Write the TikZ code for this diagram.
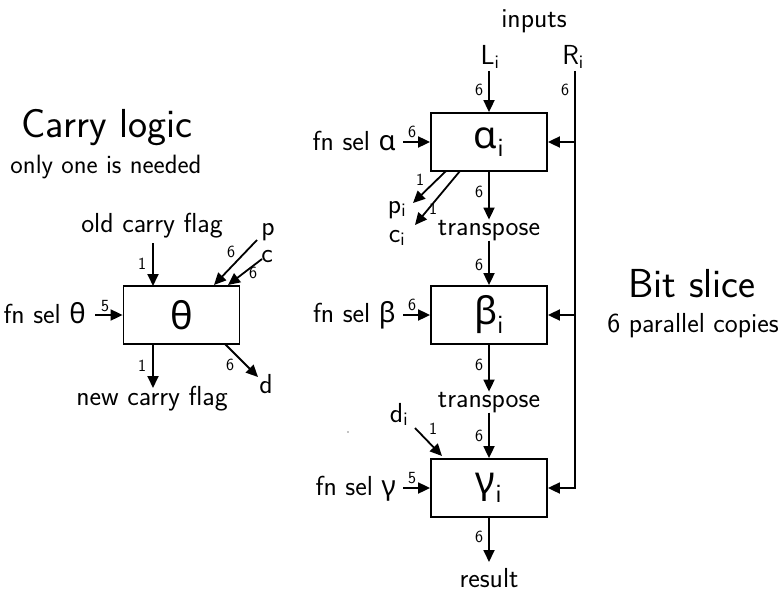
\documentclass[tikz,border=0pt]{standalone}
\usepackage{fontspec}
\usetikzlibrary{arrows.meta}
\newfontfamily\grk{Noto Sans}
\newcommand{\lbsub}[1]{\textsubscript{#1}}
\tikzset{
  blk/.style={draw, line width=1.8pt, minimum width=116pt, minimum height=58pt, inner sep=0pt},
  arr/.style={-{Triangle[length=12pt,width=11pt]}, line width=1.8pt},
  ln/.style={line width=1.8pt},
  num/.style={font=\sffamily\fontsize{17}{17}\selectfont, inner sep=0pt},
  lbl/.style={font=\sffamily\fontsize{27.5}{32}\selectfont, inner sep=0pt},
  big/.style={font=\sffamily\fontsize{40.5}{44}\selectfont, inner sep=0pt},
  gbox/.style={font=\grk\fontsize{38}{40}\selectfont},
}
\begin{document}
\begin{tikzpicture}[x=1pt,y=-1pt]
\useasboundingbox (0,0) rectangle (778,591);
% ---------- bit slice ----------
\node[blk,gbox] (A) at (489,142) {α\lbsub{\sffamily i}};
\node[blk,gbox] (B) at (489,315) {β\lbsub{\sffamily i}};
\node[blk,gbox] (G) at (489,488) {γ\lbsub{\sffamily i}};

\node[lbl,anchor=base] (inp) at (534,28) {inputs};
\node[lbl,anchor=base] (L) at (490,65) {L\lbsub{i}};
\node[lbl,anchor=base] (R) at (573,65) {R\lbsub{i}};
\coordinate (Ltop) at (489,71);
\coordinate (Rtop) at (575,71);
\draw[arr] (Ltop) -- (A.north);
\node[num] (nL) at (479,90) {6};
\node[num] (nR) at (565,90) {6};
\draw[arr] (Rtop) |- (G.east);
\draw[arr] (A.east -| Rtop) -- (A.east);
\draw[arr] (B.east -| Rtop) -- (B.east);

\node[lbl,anchor=base east] (fa) at (396,150) {fn sel {\grk α}};
\node[lbl,anchor=base east] (fb) at (396,322) {fn sel {\grk β}};
\node[lbl,anchor=base east] (fg) at (396,495) {fn sel {\grk γ}};
\coordinate (fae) at (403,142);
\coordinate (fbe) at (403,315);
\coordinate (fge) at (403,488);
\draw[arr] (fae) -- (A.west);
\draw[arr] (fbe) -- (B.west);
\draw[arr] (fge) -- (G.west);
\node[num] (na) at (412,132) {6};
\node[num] (nb) at (412,305) {6};
\node[num] (ng) at (412,478) {5};

\node[lbl,anchor=base] (t1) at (489,235) {transpose};
\node[lbl,anchor=base] (t2) at (489,407) {transpose};
\node[lbl,anchor=base] (res) at (489,587) {result};
\coordinate (resn) at (489,562);
\draw[arr] (A.south) -- (t1.north);
\draw[arr] (t1.south) -- (B.north);
\draw[arr] (B.south) -- (t2.north);
\draw[arr] (t2.south) -- (G.north);
\draw[arr] (G.south) -- (resn);
\node[num] (n1) at (479,192) {6};
\node[num] (n2) at (479,265) {6};
\node[num] (n3) at (479,365) {6};
\node[num] (n4) at (479,436) {6};
\node[num] (n5) at (479,537) {6};

% p_i, c_i
\coordinate (ap) at (446,171);
\coordinate (ac) at (460,171);
\coordinate (pe) at (413,203);
\coordinate (ce) at (415,225);
\draw[arr] (ap) -- (pe);
\draw[arr] (ac) -- (ce);
\node[num] (np) at (420,180) {1};
\node[num] (nc) at (433,209) {1};
\node[lbl,anchor=base] (pi) at (397,213) {p\lbsub{i}};
\node[lbl,anchor=base] (ci) at (397,242) {c\lbsub{i}};

% d_i
\node[lbl,anchor=base] (di) at (399,422) {d\lbsub{i}};
\coordinate (ds) at (415,428);
\coordinate (de) at (442,456);
\draw[arr] (ds) -- (de);
\node[num] (nd) at (433,429) {1};
\fill (348,432) circle (0.6pt);

\node[big,anchor=base] (bs) at (692,297) {Bit slice};
\node[lbl,anchor=base] (bs2) at (693,332) {6 parallel copies};

% ---------- carry logic ----------
\node[big,anchor=base] (cl) at (107,137) {Carry logic};
\node[lbl,anchor=base,font=\sffamily\fontsize{26.5}{30}\selectfont] (cl2) at (106,173) {only one is needed};

\node[blk,gbox] (T) at (181.5,315) {θ};
\node[lbl,anchor=base] (old) at (152,232) {old carry flag};
\node[lbl,anchor=base] (new) at (152,405) {new carry flag};
\coordinate (oldb) at (153,243);
\coordinate (Tin) at (153,286);
\coordinate (Tout) at (153,344);
\coordinate (newt) at (153,388);
\draw[arr] (oldb) -- (Tin);
\draw[arr] (Tout) -- (newt);
\node[num] (no) at (142,264) {1};
\node[num] (nn) at (142,366) {1};

\node[lbl,anchor=base east] (ft) at (86,323) {fn sel {\grk θ}};
\coordinate (fte) at (95,315);
\draw[arr] (fte) -- (T.west);
\node[num] (nt) at (105,306) {5};

\node[lbl,anchor=base] (p) at (268,235) {p};
\node[lbl,anchor=base] (c) at (267,262) {c};
\coordinate (ps) at (257,240);
\coordinate (pt) at (214,285);
\coordinate (cs) at (262,259);
\coordinate (ct) at (228,285);
\draw[arr] (ps) -- (pt);
\draw[arr] (cs) -- (ct);
\node[num] (npp) at (231,252) {6};
\node[num] (ncc) at (253,273) {6};

\coordinate (ds2) at (225,344);
\coordinate (de2) at (258,377);
\draw[arr] (ds2) -- (de2);
\node[num] (ndd) at (230,365) {6};
\node[lbl,anchor=base] (d) at (266,393) {d};
\end{tikzpicture}
\end{document}
